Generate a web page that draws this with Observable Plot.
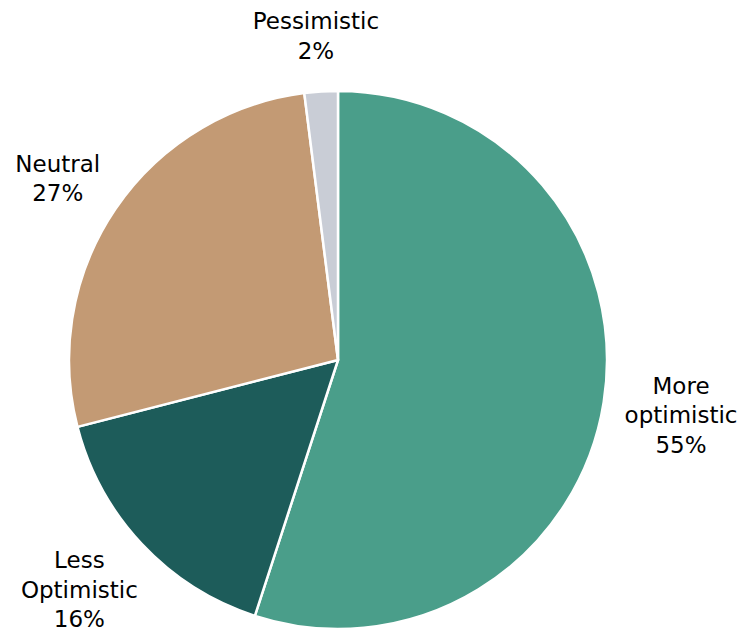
<!DOCTYPE html>
<html>
<head>
<meta charset="utf-8">
<script src="https://cdn.jsdelivr.net/npm/d3@7"></script>
<script src="https://cdn.jsdelivr.net/npm/@observablehq/plot@0.6"></script>
<style>
  html, body { margin: 0; padding: 0; background: #fff; }
  #chart svg { display: block; }
</style>
</head>
<body>
<div id="chart"></div>
<script>
const categories = ["More optimistic", "Less Optimistic", "Neutral", "Pessimistic"];
const labels = ["More\noptimistic", "Less\nOptimistic", "Neutral", "Pessimistic"];
const values = [55, 16, 27, 2];
const colors = ["#4A9E8A", "#1D5C5A", "#C39A74", "#C9CDD6"];

const W = 741, H = 632;
const cx = 338, cy = 360, R = 269;
const fontSize = 23, lineH = 29.5;
const FONT = "'DejaVu Sans', sans-serif";

const data = categories.map((c, i) => ({category: c, label: labels[i], value: values[i]}));
const arcs = d3.pie().sort(null).value(d => d.value)(data);

// measure label boxes with the real font
const ctx = document.createElement("canvas").getContext("2d");
ctx.font = `${fontSize}px ${FONT}`;
const measure = (txt) => {
  const lines = txt.split("\n");
  const w = d3.max(lines, l => ctx.measureText(l).width);
  const h = lines.length * lineH;
  return [w, h];
};
// outside-end labels, kept inside the chart area
const labelData = arcs.map(a => {
  const mid = (a.startAngle + a.endAngle) / 2;
  const text = a.data.label + "\n" + a.data.value + "%";
  const [w, h] = measure(text);
  const gap = 28;
  const s = Math.sin(mid), c = Math.cos(mid);
  let x = cx + (R + gap) * s + s * w / 2;
  let y = cy - (R + gap) * c - c * h / 2;
  x = Math.max(w / 2 + 4, Math.min(W - 4 - w / 2, x));
  y = Math.max(h / 2 + 4, Math.min(H - h / 2, y));
  return {text, x, y};
});

const pieMark = (index, scales) => {
  const g = d3.create("svg:g");
  const arc = d3.arc().innerRadius(0).outerRadius(R);
  g.selectAll("path")
    .data(arcs)
    .join("path")
    .attr("transform", `translate(${scales.x(cx)},${scales.y(cy)})`)
    .attr("d", arc)
    .attr("fill", (d, i) => colors[i])
    .attr("stroke", "#ffffff")
    .attr("stroke-width", 2.5)
    .attr("stroke-linejoin", "round");
  return g.node();
};

const chart = Plot.plot({
  width: W,
  height: H,
  margin: 0,
  x: {domain: [0, W], range: [0, W], axis: null},
  y: {domain: [0, H], range: [0, H], axis: null},
  style: {fontFamily: FONT, background: "#fff"},
  marks: [
    pieMark,
    Plot.text(labelData, {
      x: "x", y: "y", text: "text",
      fontSize: fontSize,
      lineHeight: lineH / fontSize,
      fill: "#000",
      textAnchor: "middle",
      lineAnchor: "middle"
    })
  ]
});
document.getElementById("chart").appendChild(chart);
</script>
</body>
</html>
